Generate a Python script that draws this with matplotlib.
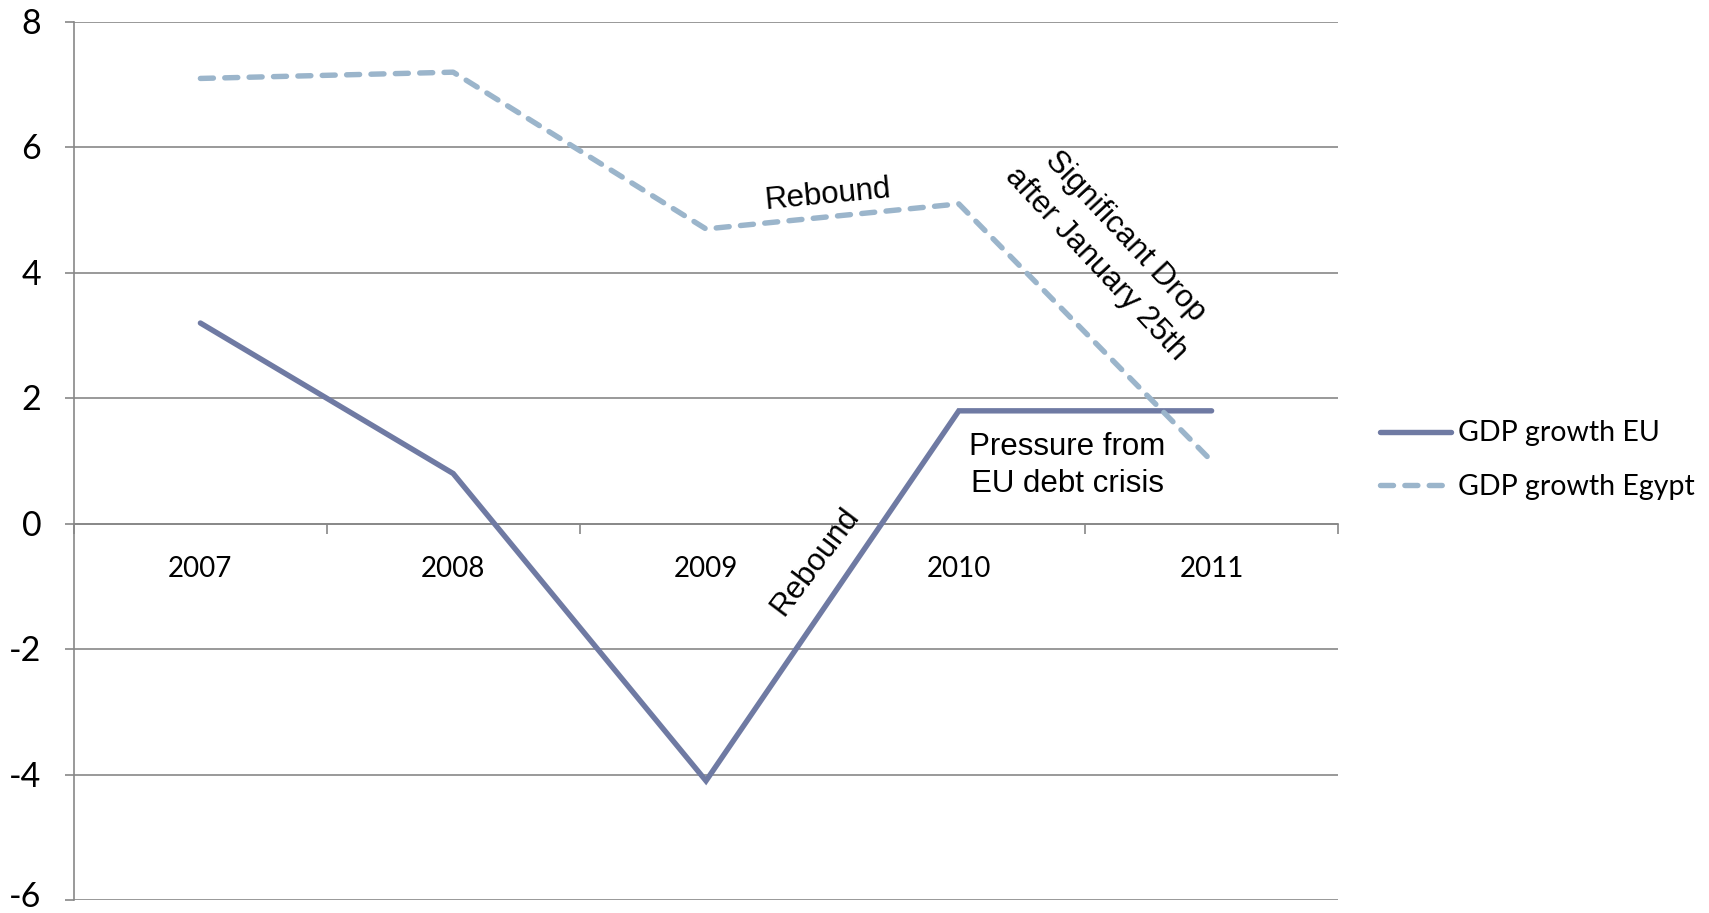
import matplotlib
matplotlib.use("Agg")
import matplotlib.pyplot as plt
from matplotlib.ticker import FixedLocator
from matplotlib.transforms import ScaledTranslation

years = ["2007", "2008", "2009", "2010", "2011"]
gdp_eu = [3.2, 0.8, -4.1, 1.8, 1.8]
gdp_egypt = [7.1, 7.2, 4.7, 5.1, 1.0]
y_ticks = [-6, -4, -2, 0, 2, 4, 6, 8]

EU_COLOR = "#6F7AA3"
EGYPT_COLOR = "#9BB5CB"
GRID_COLOR = "#878787"
TICK_FONT = "Lato"
NOTE_FONT = "Liberation Sans"

W, H = 1709, 913
fig = plt.figure(figsize=(W / 100, H / 100), dpi=100)
ax = fig.add_axes([74 / W, 1 - 900 / H, (1338 - 74) / W, (900 - 22) / H])

x = list(range(len(years)))
ax.plot(x, gdp_eu, color=EU_COLOR, lw=3.9, solid_capstyle="round",
        solid_joinstyle="miter", label="GDP growth EU", zorder=3)
ax.plot(x, gdp_egypt, color=EGYPT_COLOR, lw=3.9, linestyle=(0, (2.4, 2.1)),
        dash_capstyle="round", label="GDP growth Egypt", zorder=4)

ax.set_xlim(-0.5, len(years) - 0.5)
ax.set_ylim(-6, 8)
ax.set_yticks(y_ticks)
ax.set_yticklabels([str(v) for v in y_ticks], fontfamily=TICK_FONT, fontsize=24.5)
ax.grid(axis="y", color=GRID_COLOR, lw=1.2)
ax.set_axisbelow(True)

# category axis sits on zero, with ticks between categories
ax.spines["bottom"].set_position(("data", 0))
for side in ("top", "right"):
    ax.spines[side].set_visible(False)
for side in ("left", "bottom"):
    ax.spines[side].set_color(GRID_COLOR)
    ax.spines[side].set_linewidth(1.2)

ax.set_xticks(x)
ax.set_xticklabels(years, fontfamily=TICK_FONT, fontsize=20)
ax.xaxis.set_minor_locator(FixedLocator([i - 0.5 for i in range(len(years) + 1)]))
ax.tick_params(axis="x", which="major", length=0, pad=23.5)
ax.tick_params(axis="x", which="minor", length=7, width=1.2, color=GRID_COLOR, direction="out")
ax.tick_params(axis="y", length=6.5, width=1.2, color=GRID_COLOR, pad=17)

# lift the value labels slightly; the lowest one a little more so it stays inside the canvas
for tick, val in zip(ax.yaxis.get_major_ticks(), y_ticks):
    dy = 6 if val == y_ticks[0] else 1
    lbl = tick.label1
    lbl.set_transform(lbl.get_transform() + ScaledTranslation(0, dy / 100, fig.dpi_scale_trans))

# annotations
note = dict(fontfamily=NOTE_FONT, fontsize=22.5, ha="center", va="center",
            rotation_mode="anchor")
ax.text(2.48, 5.24, "Rebound", rotation=5.5, **note)
ax.text(2.43, -0.6, "Rebound", rotation=53, **note)
ax.text(3.60, 4.36, "Significant Drop\nafter January 25th", rotation=-47,
        linespacing=1.45, **note)
ax.text(3.43, 0.93, "Pressure from\nEU debt crisis", linespacing=1.3, **note)

leg = ax.legend(loc="center left", bbox_to_anchor=(1380 / W, 1 - 460 / H),
                bbox_transform=fig.transFigure, frameon=False,
                prop={"family": TICK_FONT, "size": 20.5},
                handlelength=2.5, handletextpad=0.25, labelspacing=0.95,
                borderpad=0, borderaxespad=0)

fig.savefig("out.png", dpi=100)
